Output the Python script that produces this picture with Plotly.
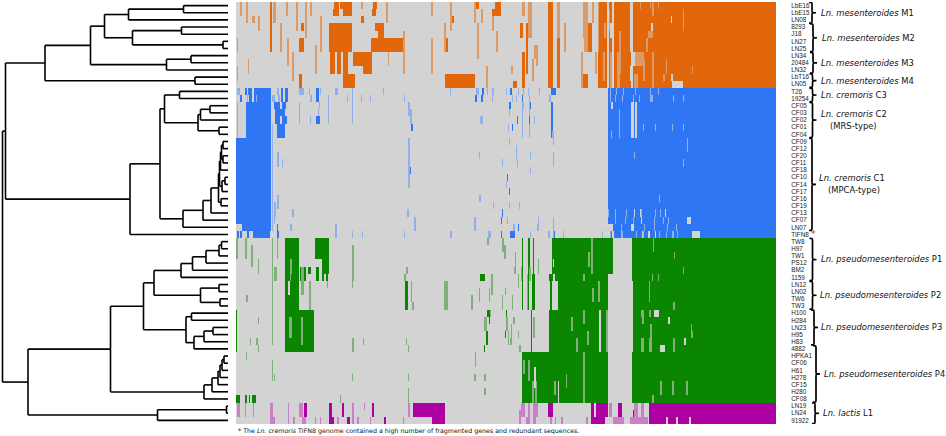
import numpy as np
import plotly.graph_objects as go

strains = ["LbE16","LbE15","LN08","8293","J18","LN27","LN25","LN34","20484","LN32","LbT16","LN05",
           "T26","19254","CF05","CF03","CF02","CF01","CF04","CF09","CF12","CF20","CF11","CF18","CF10",
           "CF14","CF17","CF16","CF19","CF13","CF07","LN07","TIFN8","TW8","H97","TW1","PS12","BM2","1159",
           "LN12","LN02","TW6","TW3","H100","H284","LN23","H95","H83","4882","HPKA1","CF06","H61","H278",
           "CF15","H280","CF08","LN19","LN24","91922"]
n_genes = 540

# family of each row: 1 mesenteroides, 2 cremoris, 3 pseudomesenteroides, 4 lactis
row_family = [1]*12 + [2]*21 + [3]*23 + [4]*3

# presence spans: (first row, last row, first gene, end gene)
orange_solid = [(0,0,104,116),(0,0,98,103),(1,1,97,103),(1,1,107,116),(3,6,93,116),(5,6,135,167),(3,3,139,148),
    (4,4,142,148),(7,9,94,99),(7,9,101,105),(7,9,107,112),(7,8,117,127),(7,9,127,136),(10,11,107,119),(10,11,209,239),
    (5,6,63,68),(10,11,63,66),(0,6,34,36),(2,2,125,128),(0,0,137,141),(1,1,136,140),(2,2,215,218),(0,0,240,243),
    (1,1,256,265),(0,0,259,265),(5,6,209,212),(3,3,65,68),(11,11,277,281),(3,4,284,287),(7,11,286,289),(3,9,290,292),
    (0,11,312,317),(5,11,321,324),(3,6,347,356),(10,11,347,352),(0,11,362,371),(0,11,373,376),(0,11,378,395),(0,11,397,402),(0,11,402,540)]
orange_faint = [(0,1,4,6),(0,2,10,12),(2,2,16,19),(2,3,22,24),(5,6,1,2),(8,9,12,13),(9,10,1,2),(0,2,37,40),(3,6,44,46),
    (0,1,50,52),(5,8,51,53),(7,10,56,58),(0,3,60,62),(0,4,69,71),(0,1,74,76),(6,9,79,81),(2,6,84,86),(0,0,125,127),
    (7,8,152,153),(0,2,150,152),(4,9,167,169),(0,1,195,197),(5,9,195,197),(0,3,214,216),(3,6,208,210),(0,2,238,240),
    (3,7,241,243),(1,2,245,247),(9,11,250,252),(0,1,286,289),(2,3,256,258),(4,6,260,262),(6,7,298,300),(9,9,275,277),
    (0,4,292,296),(6,8,300,302),(8,10,296,298),(0,4,321,324),(3,6,328,330),(0,6,347,352),(0,2,356,358),(7,11,345,347),
    (7,9,359,361),(7,11,374,376),(4,9,383,385),(1,3,372,374),
    # lighter stripes inside the solid part
    (0,0,404,405),(0,0,414,415),(0,0,422,423),(3,3,416,417),(4,4,412,417),(7,8,398,408),(7,9,416,418),(8,9,430,431),
    (9,9,456,457),(10,11,398,402),(10,11,416,418),(10,10,427,429),(1,1,447,448),(2,3,447,448),(0,6,362,363),(7,10,367,369),
    (7,11,381,384),(3,4,368,370),(5,6,410,412),(8,10,407,409),(0,1,416,418)]
orange_gap = [(0,11,371,373),(0,6,394,397),(2,2,435,436),(3,4,374,378),(8,9,376,378),(11,11,436,447),(10,10,435,437),
    (7,8,397,399),(9,10,394,396),(7,11,376,378),(5,7,347,348),(7,9,348,350),(10,11,352,355),(3,3,415,417)]

blue_solid = [(12,13,18,35),(12,12,9,11),(12,12,12,16),(13,13,4,6),(13,13,13,16),(12,13,45,47),(12,13,49,52),(12,13,80,83),
    (13,13,239,241),(13,13,245,247),(12,12,246,248),(14,18,10,35),(14,14,38,44),(14,14,46,50),(15,15,39,49),(16,16,39,44),
    (16,16,46,51),(17,18,41,49),(16,16,80,84),(17,17,175,177),(19,30,0,35),(31,31,6,35),(32,32,17,34),(32,32,1,3),(32,32,4,6),(32,32,11,13),
    (12,12,315,320),(14,18,315,317),(12,12,274,276),(13,13,286,287),(14,14,273,275),(14,14,294,295),(16,16,281,282),(16,16,293,294),
    (17,17,276,277),(24,24,271,272),(26,26,273,274),(29,29,266,267),(30,30,265,266),(31,31,282,283),(32,32,265,266),(32,32,274,279),
    (32,32,317,319),(23,23,173,175),(31,31,41,42),(32,32,41,43),(32,32,214,215),(12,32,372,540)]
blue_faint = [(12,12,1,4),(13,13,11,12),(13,13,20,21),(13,13,36,39),(12,12,41,43),(13,13,42,44),(12,12,63,68),(12,12,73,74),(13,13,74,76),
    (12,12,84,85),(12,12,99,102),(12,14,116,117),(15,16,116,117),(12,12,147,148),(12,12,214,215),(12,12,240,243),(12,12,251,252),(12,13,256,257),
    (13,13,92,93),(14,16,92,93),(13,13,111,112),(13,13,125,126),(13,13,134,135),(13,13,168,169),(14,14,63,64),(15,16,63,64),(14,14,83,84),(15,15,82,83),
    (16,16,74,75),(14,15,172,174),(15,16,174,176),(16,16,244,247),(17,18,36,37),(14,18,1,2),(19,31,36,37),(19,25,172,174),(22,22,46,47),(21,22,41,43),
    (21,21,243,244),(27,27,243,245),(27,28,41,43),(28,29,38,40),(29,30,38,39),(29,29,56,58),(31,31,54,56),(31,32,99,101),(32,32,116,117),(32,32,126,127),(32,32,168,169),
    (30,31,178,180),(30,31,238,240),(32,32,214,216),(32,32,252,255),(29,29,171,173),
    (12,12,257,258),(13,13,256,257),(12,12,270,271),(12,12,282,283),(12,12,287,288),(12,12,292,293),(12,12,303,304),(13,13,276,277),(13,13,280,281),(13,13,293,294),(13,13,313,315),
    (14,14,286,288),(15,18,286,287),(15,15,273,274),(14,15,293,294),(17,18,293,294),(16,16,298,299),(17,17,272,273),(18,18,316,318),(19,19,273,274),(19,19,317,318),
    (20,21,280,281),(21,21,294,295),(21,22,317,318),(22,22,266,267),(22,22,281,282),(23,23,294,295),(25,25,270,271),(28,28,257,258),(28,28,273,274),(28,28,283,284),(30,30,271,272),(30,31,302,303),(30,32,317,318),
    (31,31,277,279),(31,31,301,302),(32,32,294,295),(32,32,312,314),(32,32,327,328),(32,32,366,367),
    (12,12,374,375),(12,12,380,381),(12,12,387,388),(12,12,399,400),(12,12,414,415),(12,12,422,423),(13,13,374,375),(13,13,379,380),(13,13,386,387),(13,13,397,398),
    (13,13,403,404),(13,13,414,417),(13,13,437,438),(13,13,447,448),(15,18,383,384),(17,17,407,408),(17,17,419,420),(17,17,436,437),(17,17,447,448),
    (18,18,375,376),(21,21,398,399),(22,22,447,448),(19,19,451,452),(20,20,451,452),(27,27,423,424),(29,29,372,373),(29,29,379,380),(29,29,390,391),(29,29,405,406),(29,29,419,420),(29,29,424,425),
    (30,30,379,380),(30,30,389,390),(30,30,397,398),(30,30,405,406),(30,30,418,419),(30,30,427,428),(30,30,432,433),(31,31,385,386),(31,31,395,397),(31,31,408,409),(31,31,418,419),(31,31,431,432),(31,31,440,441),(32,32,373,375),(32,32,385,387),(32,32,400,401),(32,32,407,408),(32,32,423,424),(32,32,430,431),(32,32,436,438),(32,32,441,442)]
blue_gap = [(14,18,395,398),(14,18,399,401),(14,14,375,377),(19,29,371,372),(29,29,429,430),(30,30,451,455),(31,31,374,377),(31,31,395,398),
    (32,32,456,464),(32,32,412,414),(32,32,419,420),(29,29,404,405),(32,32,406,407),(30,30,405,406),(31,32,372,374),(32,32,376,378),(29,29,398,399)]

green_solid = [(33,35,49,63),(33,35,79,93),(36,37,49,63),(36,37,86,93),(37,38,64,70),(37,37,72,75),(37,38,80,83),(38,38,49,63),(38,38,86,88),(38,38,90,92),
    (39,40,54,63),(39,40,49,52),(41,42,49,63),(43,48,49,78),(39,42,169,172),(38,38,244,249),(43,43,251,255),(44,44,253,254),(46,47,250,252),(48,48,248,249),
    (43,48,0,1),(55,55,0,4),(55,55,9,11),(55,55,13,14),(55,55,16,20),
    (33,38,316,377),(33,38,396,540),(39,42,322,372),(39,42,397,540),(38,38,313,317),(39,42,314,316),(43,48,313,372),(43,55,396,540),(49,55,286,372),
    (33,42,286,287),(33,37,292,294),(38,42,292,293),(33,37,297,298),(38,42,296,299),(43,48,295,296),(43,43,270,271),(46,46,269,270)]
green_faint = [(33,35,0,2),(33,35,9,11),(34,36,15,17),(33,42,36,37),(43,47,36,37),(33,35,41,42),(36,37,54,56),(38,38,54,55),(36,37,22,23),(37,38,38,41),
    (34,36,116,118),(37,38,116,118),(39,39,116,117),(37,37,170,172),(38,38,168,170),(33,33,251,253),(38,40,255,257),(39,39,91,92),(39,42,73,75),(37,40,65,68),
    (40,41,243,244),(40,41,253,254),(41,42,235,237),(40,42,36,37),(41,41,10,12),(42,42,176,178),(39,41,175,176),(39,42,208,212),(44,44,22,23),(44,45,248,251),
    (44,46,53,56),(44,47,65,67),(47,47,20,22),(47,47,14,15),(48,48,22,23),(47,47,127,128),(47,48,116,118),(47,47,170,171),(48,48,172,173),(49,49,10,11),(49,50,239,240),(50,52,36,37),
    (52,52,38,39),(52,52,116,117),(52,52,172,173),(52,52,238,240),(52,52,248,250),(54,55,172,173),(54,54,248,250),(55,55,104,105),
    (33,34,266,268),(34,35,268,270),(35,36,279,280),(37,37,278,280),(37,38,285,286),(36,37,302,303),(38,39,282,283),(37,38,293,295),(38,42,291,292),(40,40,269,270),(41,42,266,267),(41,42,276,277),(43,43,254,255),
    (44,45,270,272),(44,44,277,279),(45,46,275,276),(46,47,272,273),(47,47,274,276),(46,46,282,283),(48,48,283,285),
    (50,51,287,289),(50,52,292,294),(53,55,296,298),(53,55,299,301),(44,46,297,299),(53,54,318,320),(52,53,330,331),
    (35,36,352,354),(33,37,355,357),(38,38,347,349),(39,41,362,364),(40,41,356,358),(43,44,347,349),(46,47,351,353),(43,48,370,372),(49,55,347,349),(44,45,335,337),(47,48,340,342),
    (33,34,417,418),(35,35,438,439),(38,38,422,423),(38,38,416,417),(37,37,447,448),(39,41,413,414),(42,42,437,439),(43,43,405,408),(43,43,413,415),(44,44,406,408),(45,46,414,416),(47,48,405,408),
    (47,48,413,416),(47,48,437,439),(46,46,455,457),(45,45,455,456),(53,54,424,426),(53,54,436,438),(53,54,450,452),(55,55,416,418)]
green_gap = [(38,38,317,319),(39,40,316,322),(41,42,316,319),(38,38,372,377),(39,42,372,378),(43,48,372,397),(39,42,396,397),(36,36,317,318),
    (43,43,418,423),(44,44,432,434),(47,47,448,450),(48,48,424,429),(49,55,372,377),(49,55,378,396),(43,48,363,365),(49,53,373,375),
    (54,55,373,384),(51,53,298,300),(53,55,322,323)]

magenta_solid = [(56,57,177,209),(58,58,196,209),(56,57,68,71),(56,57,93,96),(56,57,106,108),(56,57,136,138),(58,58,93,98),(58,58,111,114),(58,58,148,150),
    (56,57,312,317),(56,58,355,372),(56,57,382,386),(56,58,413,540),(57,57,397,399),(57,58,399,401)]
magenta_faint = [(56,57,1,4),(56,57,9,10),(56,57,17,18),(56,57,34,37),(56,57,52,53),(56,57,63,67),(56,57,116,118),(56,56,128,129),(56,57,172,174),
    (58,58,34,39),(58,58,52,53),(58,58,57,59),(58,58,66,70),(58,58,79,80),(58,58,84,85),(58,58,101,103),(58,58,116,118),(58,58,121,123),(58,58,134,135),(58,58,167,168),
    (56,57,285,289),(56,57,292,294),(56,57,297,302),(57,58,283,285),(58,58,290,294),(58,58,297,300),(58,58,314,316),(58,58,319,320),(58,58,325,327),(58,58,350,352),
    (56,57,373,376),(58,58,377,388),(56,57,398,402),(58,58,394,413),(56,57,405,408)]
magenta_gap = [(58,58,369,372),(56,57,358,360),(58,58,412,413),(58,58,430,432),(58,58,440,442),(58,58,453,455)]

# dendrogram: (merge height, upper branch, lower branch); a plain integer is a strain row
tree = (2.5,
  (5.5,
    (45,
      (90.5,
        (104.5,
          (128.5, (183.5, 0, 1), 2),
          (132.5, (181.5, 3, 4), (223, 5, 6))),
        (166.5, (191, 7, 8), 9)),
      (195, 10, 11)),
    (130,
      (160,
        (164.5,
          (179.5, 12, 13),
          (198, (200.5, (210, 14, 15), 16), (219, 17, 18))),
        (183,
          (203,
            (211,
              (218.5,
                (219.5,
                  (220.5, (221.5, (223, 19, 20), (223, 21, 22)), 23),
                  (222, (225, 24, 25), 26)),
                (221, 27, 28)),
              29),
            30),
          31)),
      32)),
  (28,
    (110.5,
      (143.5,
        (154,
          (181, (192.5, (206, (219, (221.5, 33, 34), 35), 36), 37), 38),
          (200.5, (219, 39, 40), (220, 41, 42))),
        (186,
          (191.5, 43, 44),
          (194, (204, (213, 45, 46), 47), 48))),
      (204, (212, (218, (220, (222, (224, 49, 50), 51), 52), 53), 54), 55)),
    (157.5, (226.5, 56, 57), 58)))
leaf_height = 228

groups = [("Ln. mesenteroides", "M1", 0, 2), ("Ln. mesenteroides", "M2", 3, 6), ("Ln. mesenteroides", "M3", 7, 9),
          ("Ln. mesenteroides", "M4", 10, 11), ("Ln. cremoris", "C3", 12, 13), ("Ln. cremoris", "C2", 14, 18),
          ("Ln. cremoris", "C1", 19, 31), ("Ln. pseudomesenteroides", "P1", 33, 38), ("Ln. pseudomesenteroides", "P2", 39, 42),
          ("Ln. pseudomesenteroides", "P3", 43, 47), ("Ln. pseudomesenteroides", "P4", 48, 55), ("Ln. lactis", "L1", 56, 58)]
group_notes = {"C2": "(MRS-type)", "C1": "(MPCA-type)"}
footnote = "* The <i>Ln. cremoris</i> TIFN8 genome contained a high number of fragmented genes and redundant sequences."

# ---------- build ----------
W, H = 946, 436
GRAY = "#d3d3d3"
solid_colors = {1: "#e2660a", 2: "#2f76f5", 3: "#0a8600", 4: "#ac00a3"}
faint_colors = {1: "#dc9a66", 2: "#8fb0ea", 3: "#7fb07a", 4: "#cc7fc8"}

z = np.zeros((len(strains), n_genes))
for fam, solid, faint, gap in [(1, orange_solid, orange_faint, orange_gap), (2, blue_solid, blue_faint, blue_gap),
                               (3, green_solid, green_faint, green_gap), (4, magenta_solid, magenta_faint, magenta_gap)]:
    for r0, r1, c0, c1 in solid:
        z[r0:r1+1, c0:c1] = fam
    for r0, r1, c0, c1 in faint:
        z[r0:r1+1, c0:c1] = fam + 4
    for r0, r1, c0, c1 in gap:
        z[r0:r1+1, c0:c1] = 0

levels = [GRAY] + [solid_colors[i] for i in range(1, 5)] + [faint_colors[i] for i in range(1, 5)]
scale = []
for i, c in enumerate(levels):
    scale += [[i/len(levels), c], [(i+1)/len(levels), c]]

dx, dy = [], []
def draw(node):
    if isinstance(node, int):
        return leaf_height, node
    h, a, b = node
    xa, ya = draw(a)
    xb, yb = draw(b)
    dx.extend([xa, h, None, xb, h, None, h, h, None])
    dy.extend([ya, ya, None, yb, yb, None, ya, yb, None])
    return h, (ya + yb) / 2
draw(tree)

fig = go.Figure()
fig.add_trace(go.Heatmap(z=z, x=list(range(n_genes)), y=list(range(len(strains))), zmin=-0.5, zmax=len(levels)-0.5,
                         colorscale=scale, showscale=False, hoverinfo="skip"))
fig.add_trace(go.Scatter(x=dx, y=dy, xaxis="x2", yaxis="y", mode="lines", line=dict(color="#000000", width=1.6),
                         hoverinfo="skip", showlegend=False))

px = lambda x: x / W
fig.update_layout(
    width=W, height=H, margin=dict(l=0, r=0, t=0, b=0), paper_bgcolor="white", plot_bgcolor="white", showlegend=False,
    xaxis=dict(domain=[px(236), px(776)], range=[-0.5, n_genes-0.5], visible=False),
    xaxis2=dict(domain=[0, px(228)], range=[0, leaf_height], visible=False, anchor="y"),
    yaxis=dict(domain=[12/H, 434/H], range=[len(strains)-0.5, -0.5], anchor="x", side="right", showgrid=False, zeroline=False,
               tickmode="array", tickvals=list(range(len(strains))), ticktext=strains, ticks="outside", ticklen=13,
               tickcolor="rgba(0,0,0,0)", tickfont=dict(family="Liberation Sans", size=6.3, color="#222222")),
)

brace_x = {"M1": 812, "M2": 813, "M3": 813, "M4": 812.5, "C3": 812.5, "C2": 812.5, "C1": 812, "P1": 812.5, "P2": 812.5, "P3": 814, "P4": 816, "L1": 815}
text_x = {"M1": 819, "M2": 820, "M3": 819, "M4": 819, "C3": 819, "C2": 819, "C1": 817, "P1": 819, "P2": 818, "P3": 819, "P4": 822, "L1": 821}
note_x = {"C2": 828, "C1": 826}
shapes, annos = [], []
font = dict(family="DejaVu Sans", size=8.4, color="#111111")
for name, tag, r0, r1 in groups:
    s = px(brace_x[tag]); a = px(3); b = px(4)
    y0, y1 = r0 - 0.45, r1 + 0.45
    m = (y0 + y1) / 2
    e = 0.35
    path = (f"M {s-a} {y0} C {s} {y0} {s} {y0} {s} {y0+e} L {s} {m-e} C {s} {m} {s} {m} {s+b} {m} "
            f"C {s} {m} {s} {m} {s} {m+e} L {s} {y1-e} C {s} {y1} {s} {y1} {s-a} {y1}")
    shapes.append(dict(type="path", path=path, xref="paper", yref="y", line=dict(color="#000000", width=1.7)))
    shift = 6 if tag in group_notes else 0
    annos.append(dict(x=px(text_x[tag]), y=m, xref="paper", yref="y", xanchor="left", yanchor="middle", showarrow=False,
                      yshift=shift, text=f"<i>{name}</i> {tag}", font=font))
    if tag in group_notes:
        annos.append(dict(x=px(note_x[tag]), y=m, xref="paper", yref="y", xanchor="left", yanchor="middle", showarrow=False,
                          yshift=-6, text=group_notes[tag], font=font))
annos.append(dict(x=px(809), y=strains.index("TIFN8"), xref="paper", yref="y", xanchor="left", yanchor="middle", showarrow=False,
                  text="*", font=dict(family="DejaVu Sans", size=9, color="#d01030")))
annos.append(dict(x=px(236), y=(H-431)/H, xref="paper", yref="paper", xanchor="left", yanchor="middle", showarrow=False,
                  text=footnote, font=dict(family="DejaVu Sans", size=6.3, color="#111111")))
fig.update_layout(shapes=shapes, annotations=annos)

fig.write_html("out.html", config={"displayModeBar": False}, post_script="document.body.style.margin='0';")
